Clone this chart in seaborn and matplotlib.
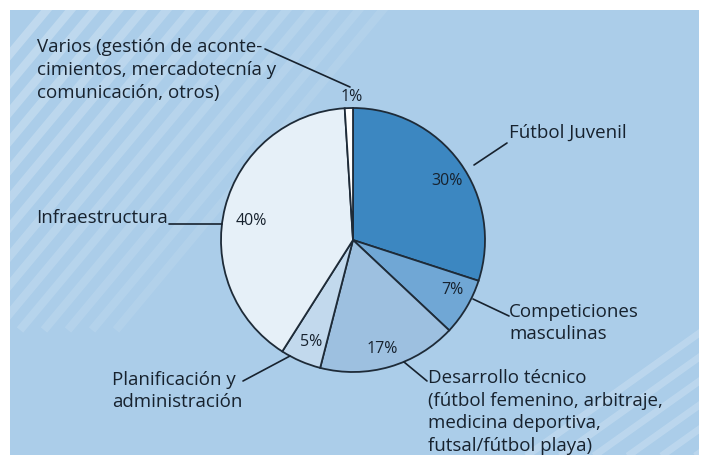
import numpy as np
import matplotlib
matplotlib.use("Agg")
import matplotlib.pyplot as plt
import seaborn as sns
from matplotlib.patches import Rectangle

# data
categories = ["Fútbol Juvenil", "Competiciones masculinas", "Desarrollo técnico",
              "Planificación y administración", "Infraestructura", "Varios"]
shares = [30, 7, 17, 5, 40, 1]
pct_labels = ["30%", "7%", "17%", "5%", "40%", "1%"]
slice_colors = ["#3c87c1", "#70a7d5", "#9dc0e0", "#c2d9ed", "#e6f0f8", "#ffffff"]

label_texts = [
    "Fútbol Juvenil",
    "Competiciones\nmasculinas",
    "Desarrollo técnico\n(fútbol femenino, arbitraje,\nmedicina deportiva,\nfutsal/fútbol playa)",
    "Planificación y\nadministración",
    "Infraestructura",
    "Varios (gestión de aconte-\ncimientos, mercadotecnía y\ncomunicación, otros)",
]

sns.set_theme(style="white")
plt.rcParams["font.family"] = ["Open Sans", "DejaVu Sans"]

W, H = 704, 455
TXT = "#17222e"
BG = "#abcde9"

fig = plt.figure(figsize=(W / 100, H / 100), dpi=100, facecolor="white")
ax = fig.add_axes([0, 0, 1, 1])


def P(x, y):
    # pixel coords (origin top-left) -> data coords
    return x, H - y


# background panel
panel = Rectangle(P(10, H), 689, H - 10, facecolor=BG, edgecolor="none", zorder=0)
ax.add_patch(panel)

# decorative diagonal stripes
for i, x0 in enumerate(np.arange(-220, 120, 24)):
    a = 0.26 - 0.012 * i
    ln, = ax.plot([x0, x0 + 300], [H - 330, H + 30], color="white", lw=6, alpha=max(a, 0.07),
                  solid_capstyle="butt", zorder=1)
    ln.set_clip_path(panel)
for i, y0 in enumerate(np.arange(560, 760, 24)):
    ln, = ax.plot([380, 760], [H - y0, H - y0 + 270], color="white", lw=5, alpha=0.2,
                  solid_capstyle="butt", zorder=1)
    ln.set_clip_path(panel)

cx, cy = P(353, 240)
R = 132
wedges, _ = ax.pie(shares, colors=slice_colors, startangle=90, counterclock=False,
                   center=(cx, cy), radius=R, frame=True,
                   wedgeprops=dict(edgecolor="#1e2b38", linewidth=1.3))
for w in wedges:
    w.set_zorder(3)

# percentage labels
pct_pos = [(447, 181), (452, 290), (382, 349), (311, 342), (251, 221), (352, 97)]
for t, (x, y) in zip(pct_labels, pct_pos):
    ax.text(*P(x, y), t, ha="center", va="center", fontsize=11.5, color=TXT, zorder=5)

# category labels
lab_pos = [(509, 133), (509, 323), (428, 412), (112, 391), (36, 218), (37, 70)]
for t, (x, y) in zip(label_texts, lab_pos):
    ax.text(*P(x, y), t, ha="left", va="center", fontsize=13.5, color=TXT,
            linespacing=1.35, zorder=5)

# leader lines
leaders = [((474, 165), (507, 143)), ((473, 299), (509, 316)), ((404, 362), (427, 381)),
           ((290, 356), (243, 381)), ((169, 224), (222, 224)), ((265, 49), (350, 87))]
for (x1, y1), (x2, y2) in leaders:
    ax.plot(*zip(P(x1, y1), P(x2, y2)), color=TXT, lw=1.2, zorder=4)

ax.set_xlim(0, W)
ax.set_ylim(0, H)
ax.set_aspect("equal")
ax.axis("off")

fig.savefig("out.png", dpi=100, facecolor="white")
